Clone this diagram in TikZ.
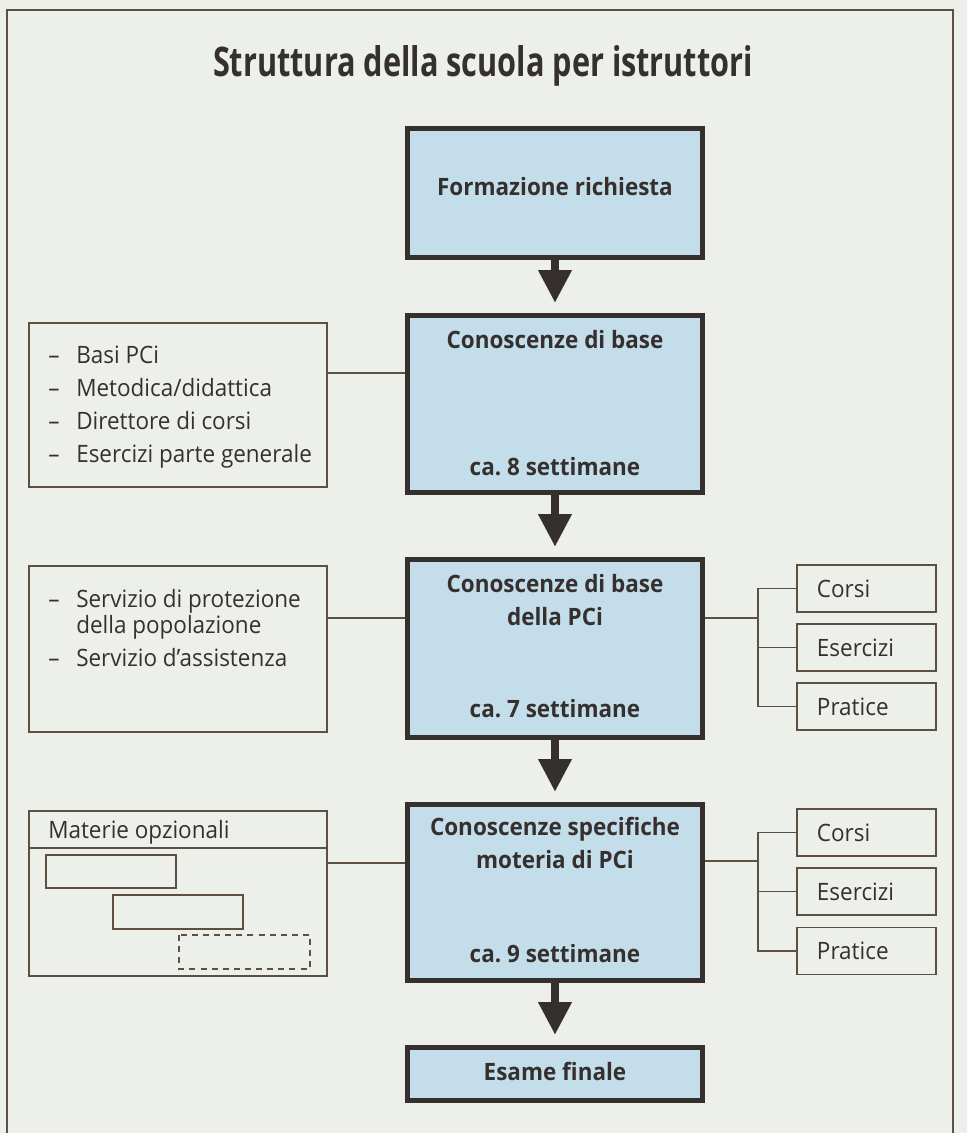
\documentclass[tikz,border=0pt]{standalone}
\usepackage{fontspec}
\setmainfont{Open Sans}[FakeStretch=0.94]
\usetikzlibrary{arrows.meta,positioning,calc}

\definecolor{paper}{HTML}{ECEFEA}
\definecolor{boxblue}{HTML}{C3DEEA}
\definecolor{ink}{HTML}{35302E}
\definecolor{rule}{HTML}{5E5040}

\tikzset{
  stage/.style={draw=ink,line width=3.5pt,fill=boxblue,minimum width=7.375cm,inner sep=0pt},
  side/.style={draw=rule,line width=1pt,minimum width=7.45cm,inner sep=0pt},
  leaf/.style={draw=rule,line width=1pt,minimum width=3.475cm,minimum height=1.175cm,
    text width=2.475cm,inner xsep=0.5cm,inner ysep=0pt,align=left,text=ink,
    font=\fontsize{17}{19.6}\selectfont},
  stagetxt/.style={anchor=base,inner sep=0pt,text=ink,font=\fontsize{17}{19.6}\selectfont\bfseries},
  sidetxt/.style={anchor=base west,inner sep=0pt,text=ink,font=\fontsize{17}{18.5}\selectfont},
  flow/.style={draw=ink,line width=5.7pt,
    -{Triangle[width=0.85cm,length=0.8cm,line width=0pt]},shorten >=0.27cm},
  link/.style={draw=rule,line width=1pt}
}
\newcommand{\dashitem}{\makebox[19.9pt][l]{--}}

\begin{document}
\begin{tikzpicture}[x=0.025cm,y=-0.025cm]
  \fill[paper] (0,0) rectangle (967,1133);
  \useasboundingbox (0,0) rectangle (967,1133);
  % frame
  \draw[rule,line width=1pt] (7,1133) -- (7,10) -- (953,10) -- (953,1133);

  \node[anchor=base,inner sep=0pt,text=ink,font=\fontsize{29}{32}\selectfont\bfseries]
    (title) at (483,76) {\scalebox{0.8}[1]{Struttura della scuola per istruttori}};

  % main column
  \node[stage,minimum height=3.225cm] (form)  at (555,193) {};
  \node[stage,minimum height=4.425cm] (base)  at (555,404) {};
  \node[stage,minimum height=4.45cm]  (pci)   at (555,648.5) {};
  \node[stage,minimum height=4.4cm]   (spec)  at (555,892.5) {};
  \node[stage,minimum height=1.325cm] (esame) at (555,1074) {};

  \node[stagetxt] (formT)  at (555,195) {Formazione richiesta};
  \node[stagetxt] (baseT)  at (555,348) {Conoscenze di base};
  \node[stagetxt] (baseW)  at (555,475) {ca.~8 settimane};
  \node[stagetxt] (pciT)   at (555,592) {Conoscenze di base};
  \node[stagetxt] (pciT2)  at (555,625) {della PCi};
  \node[stagetxt] (pciW)   at (555,717) {ca.~7 settimane};
  \node[stagetxt] (specT)  at (555,835) {Conoscenze specifiche};
  \node[stagetxt] (specT2) at (555,868) {moteria di PCi};
  \node[stagetxt] (specW)  at (555,962) {ca.~9 settimane};
  \node[stagetxt] (esameT) at (555,1080) {Esame finale};

  \draw[flow] (form) -- (base);
  \draw[flow] (base) -- (pci);
  \draw[flow] (pci) -- (spec);
  \draw[flow] (spec) -- (esame);

  % left column
  \node[side,minimum height=4.1cm]   (sideA) at (178,405) {};
  \node[side,minimum height=4.15cm]  (sideB) at (178,649) {};
  \node[side,minimum height=4.125cm] (sideC) at (178,893.5) {};

  \node[sidetxt] (sideAT) at (48,363) {\begin{tabular}[t]{@{}l@{}}
    \dashitem Basi PCi\\[5.2pt]
    \dashitem Metodica/didattica\\[5.2pt]
    \dashitem Direttore di corsi\\[5.2pt]
    \dashitem Esercizi parte generale
  \end{tabular}};
  \node[sidetxt] (sideBT) at (48,607) {\begin{tabular}[t]{@{}l@{}}
    \dashitem Servizio di protezione\\
    \makebox[19.9pt][l]{}della popolazione\\[5.2pt]
    \dashitem Servizio d’assistenza
  \end{tabular}};
  \node[sidetxt] (sideCT) at (48,838) {Materie opzionali};

  \draw[link] (sideC.west |- 0,848) -- (sideC.east |- 0,848);
  \draw[link] (46,855) rectangle (176,888);
  \draw[link] (113,895) rectangle (243,929);
  \draw[link,dash pattern=on 4.3pt off 3.6pt] (179,935) rectangle (310,969);

  \coordinate (jA) at (0,373);
  \coordinate (jB) at (0,618);
  \coordinate (jC) at (0,863);
  \draw[link] (sideA.east |- jA) -- (base.west |- jA);
  \draw[link] (sideB.east |- jB) -- (pci.west |- jB);
  \draw[link] (sideC.east |- jC) -- (spec.west |- jC);

  % right column
  \node[leaf] (corsiP)    at (866.5,588.5) {Corsi};
  \node[leaf] (eserciziP) at (866.5,647.5) {Esercizi};
  \node[leaf] (praticeP)  at (866.5,706.5) {Pratice};
  \node[leaf] (corsiS)    at (866.5,832.5) {Corsi};
  \node[leaf] (eserciziS) at (866.5,891.5) {Esercizi};
  \node[leaf] (praticeS)  at (866.5,951)   {Pratice};

  \coordinate (forkP) at (758,618);
  \coordinate (forkS) at (758,861);
  \draw[link] (pci.east |- forkP) -- (forkP);
  \draw[link] (corsiP.west) -- (forkP |- corsiP.west) -- (forkP |- praticeP.west) -- (praticeP.west);
  \draw[link] (eserciziP.west) -- (forkP |- eserciziP.west);
  \draw[link] (spec.east |- forkS) -- (forkS);
  \draw[link] (corsiS.west) -- (forkS |- corsiS.west) -- (forkS |- praticeS.west) -- (praticeS.west);
  \draw[link] (eserciziS.west) -- (forkS |- eserciziS.west);
\end{tikzpicture}
\end{document}
